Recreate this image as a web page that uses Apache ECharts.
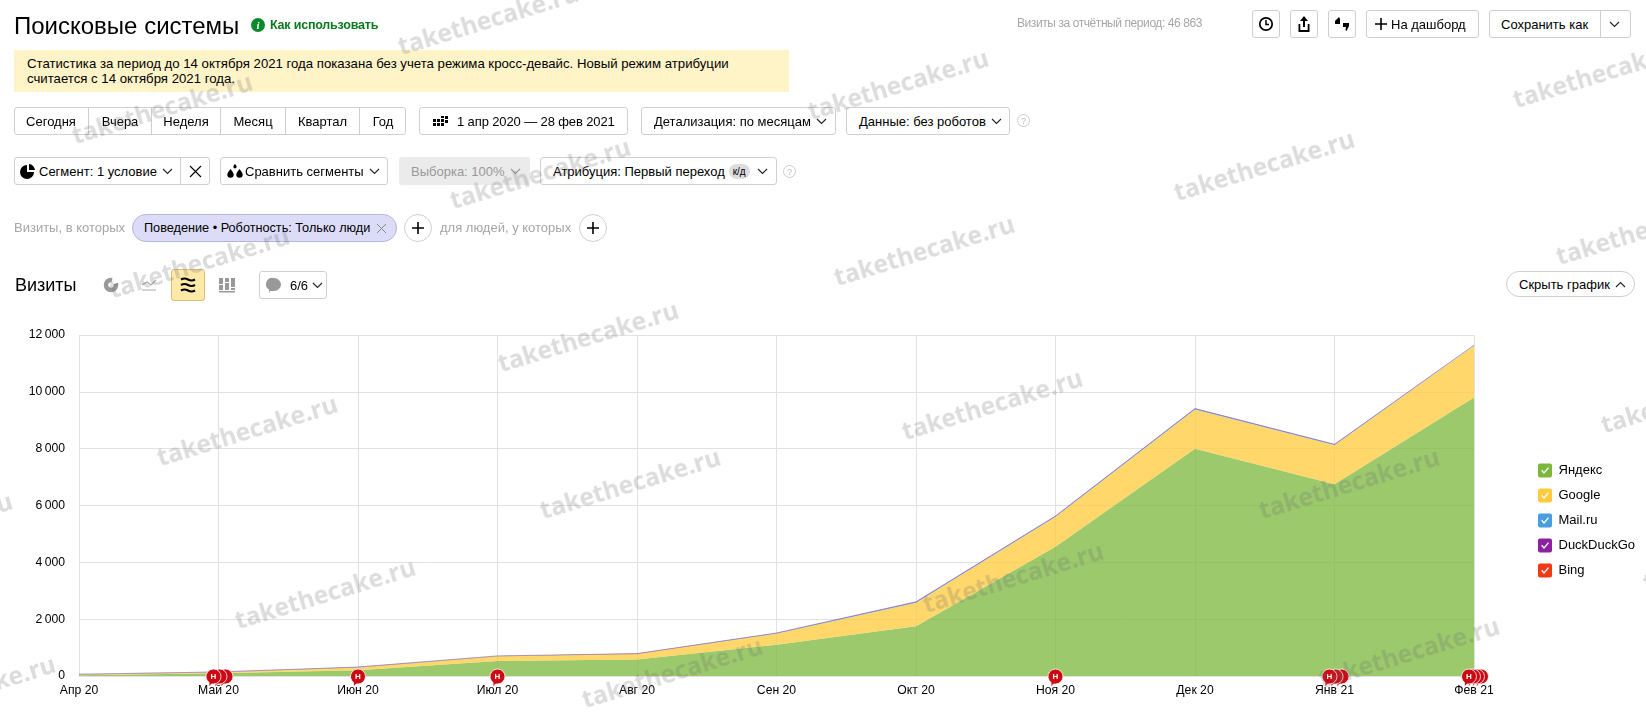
<!DOCTYPE html>
<html>
<head>
<meta charset="utf-8">
<title>Поисковые системы</title>
<script src="https://cdn.jsdelivr.net/npm/echarts@6/dist/echarts.min.js"></script>
<style>
  html, body { margin: 0; padding: 0; background: #fff; overflow: hidden; }
  body { width: 1646px; height: 720px; position: relative; font: 13px "Liberation Sans", Arial, sans-serif; color: #000; }
  #chart { position: absolute; left: 0; top: 0; width: 1646px; height: 720px; }
  .el { position: absolute; box-sizing: border-box; white-space: nowrap; }
  .btn { border: 1px solid #cfcfcf; border-radius: 3px; background: #fff; display: flex; align-items: center; }
  .mark { position: absolute; font: bold 24.5px "Open Sans", sans-serif; color: rgba(110,110,110,.24); transform: translate(-50%,-50%) rotate(-17deg); white-space: nowrap; pointer-events: none; }
  svg { display: block; }
</style>
</head>
<body>
<div id="chart"></div>
<div id="ui"></div>
<script>
// данные графика
var months = ["Апр 20", "Май 20", "Июн 20", "Июл 20", "Авг 20", "Сен 20", "Окт 20", "Ноя 20", "Дек 20", "Янв 21", "Фев 21"];
var yandex = [30, 100, 200, 530, 580, 1100, 1750, 4550, 8000, 6750, 9800];
var google = [30, 40, 110, 170, 200, 400, 830, 1050, 1380, 1380, 1820];
var mailru = [2, 2, 4, 5, 5, 10, 25, 25, 25, 15, 15];
var duckduckgo = [1, 1, 1, 2, 2, 3, 5, 5, 8, 8, 8];
var bing = [1, 1, 1, 1, 1, 2, 2, 3, 3, 3, 3];
var eventCounts = [0, 3, 1, 1, 0, 0, 0, 1, 0, 3, 4];
var yTicks = [0, 2000, 4000, 6000, 8000, 10000, 12000];

var checkIcon = "path://M2 0H12A2 2 0 0 1 14 2V12A2 2 0 0 1 12 14H2A2 2 0 0 1 0 12V2A2 2 0 0 1 2 0ZM3.2 7.2L6 10.6L11 4.6L10 3.7L6 8.4L4.2 6.3Z";
var pinIcon = "path://M7.5 0A7.5 7.5 0 0 1 7.5 15L5.5 15L3 18L3 13.500A7.5 7.5 0 0 1 7.5 0Z";

function areaSeries(name, values, color, lineWidth) {
  return {
    name: name,
    type: "line",
    stack: "total",
    data: values,
    symbol: "none",
    silent: true,
    itemStyle: { color: color },
    lineStyle: { color: color, width: lineWidth, opacity: 0.7 },
    areaStyle: { color: color, opacity: 0.76 }
  };
}

// красные метки "Н" на оси, передняя метка рисуется последней
function eventSeries() {
  var items = [];
  for (var i = 0; i < months.length; i++) {
    var n = eventCounts[i];
    for (var j = n - 1; j >= 0; j--) {
      var shift = n > 1 ? -5 + j * 12 / (n - 1) : 0;
      items.push({
        value: [months[i], 0],
        symbolOffset: [shift, 2],
        label: { show: j === 0 }
      });
    }
  }
  return {
    name: "events",
    type: "scatter",
    data: items,
    clip: false,
    silent: true,
    z: 10,
    symbol: pinIcon,
    symbolSize: [15, 18],
    itemStyle: { color: "#cc0a14", borderColor: "#fff", borderWidth: 0.8, opacity: 1 },
    label: { position: "inside", formatter: "Н", color: "#fff", fontSize: 8, fontWeight: "bold", offset: [0, -1.5] }
  };
}

var chart = echarts.init(document.getElementById("chart"), null, { renderer: "canvas" });
chart.setOption({
  animation: false,
  textStyle: { fontFamily: '"Liberation Sans", Arial, sans-serif' },
  grid: { left: 79, top: 335, width: 1395, height: 341 },
  xAxis: {
    type: "category",
    data: months,
    boundaryGap: false,
    axisTick: { show: false },
    axisLine: { lineStyle: { color: "#e2e2e2" } },
    axisLabel: { color: "#000", fontSize: 12.2, margin: 9, interval: 0 },
    splitLine: { show: true, lineStyle: { color: "#e2e2e2", width: 1 } }
  },
  yAxis: {
    type: "value",
    min: yTicks[0],
    max: yTicks[yTicks.length - 1],
    interval: 2000,
    axisLine: { show: false },
    axisTick: { show: false },
    axisLabel: {
      color: "#000",
      fontSize: 12.2,
      margin: 14,
      formatter: function (v) { return String(v).replace(/\B(?=(\d{3})+$)/g, "\u2009"); }
    },
    splitLine: { lineStyle: { color: "#e2e2e2", width: 1 } }
  },
  legend: {
    data: ["Яндекс", "Google", "Mail.ru", "DuckDuckGo", "Bing"],
    orient: "vertical",
    left: 1533,
    top: 458.5,
    icon: checkIcon,
    itemWidth: 14,
    itemHeight: 14,
    itemGap: 11,
    itemStyle: { borderWidth: 0 },
    selectedMode: false,
    textStyle: { color: "#000", fontSize: 13, padding: [0, 0, 0, 1.5] }
  },
  series: [
    areaSeries("Яндекс", yandex, "#7cb83e", 0),
    areaSeries("Google", google, "#ffcb3d", 0),
    areaSeries("Mail.ru", mailru, "#4a9de0", 0.5),
    areaSeries("DuckDuckGo", duckduckgo, "#8a22a0", 0.5),
    areaSeries("Bing", bing, "#f03a17", 0),
    eventSeries()
  ]
});

// обвязка интерфейса вокруг графика
var ui = document.getElementById("ui");
function el(x, y, w, h, text, css, cls) {
  var d = document.createElement("div");
  d.className = "el " + (cls || "");
  d.style.cssText = "left:" + x + "px;top:" + y + "px;" + (w ? "width:" + w + "px;" : "") + (h ? "height:" + h + "px;" : "") + (css || "");
  d.innerHTML = text || "";
  ui.appendChild(d);
  return d;
}
function btn(x, y, w, h, text, css) {
  return el(x, y, w, h, text, "padding-left:12px;" + (css || ""), "btn");
}
var chev = '<svg width="11" height="7" style="margin-left:5px" viewBox="0 0 11 7"><path d="M1 1l4.5 4.5L10 1" fill="none" stroke="#222" stroke-width="1.1"/></svg>';
var chevGray = chev.replace("#222", "#999");
var chevUp = chev.replace("M1 1l4.5 4.5L10 1", "M1 6l4.5-4.5L10 6");
var plus = '<svg width="14" height="14" viewBox="0 0 14 14"><path d="M7 1v12M1 7h12" stroke="#000" stroke-width="1.6"/></svg>';
var help = "width:13px;height:13px;border:1px solid #ccc;border-radius:50%;color:#bbb;font-size:9px;line-height:13px;text-align:center;";

// шапка
el(14, 11, 0, 0, "Поисковые системы", "font-size:24px;line-height:30px;");
el(251, 18, 14, 14, "i", "border-radius:50%;background:#0a8a2a;color:#fff;font:bold italic 11px/14px 'Liberation Serif',serif;text-align:center;");
el(270, 17, 0, 0, "Как использовать", "color:#0a7a1e;font-size:12.5px;line-height:16px;font-weight:bold;letter-spacing:-.2px;");
el(1017, 15, 0, 0, "Визиты за отчётный период: 46 863", "color:#a6a6a6;font-size:12px;line-height:16px;letter-spacing:-.42px;");
var icoClock = '<svg width="16" height="16" viewBox="0 0 16 16"><circle cx="8" cy="8" r="6.2" fill="none" stroke="#000" stroke-width="1.7"/><path d="M8 4v4.5h3" fill="none" stroke="#000" stroke-width="1.5"/></svg>';
var icoShare = '<svg width="14" height="18" viewBox="0 0 14 18"><path d="M7 1L3 6h3v6h2V6h3zM1.5 9v8h11V9h-1.8v6H3.300V9z" fill="#000"/></svg>';
var icoQuote = '<svg width="16" height="16" viewBox="0 0 16 16"><path d="M5 1L1 5v3h5V3zM9 7h6v3l-2.500 5-1-1 .5-3H9z" fill="#000"/></svg>';
el(1252, 10, 28, 28, icoClock, "justify-content:center;", "btn");
el(1290, 10, 28, 28, icoShare, "justify-content:center;", "btn");
el(1328, 10, 28, 28, icoQuote, "justify-content:center;", "btn");
el(1366, 10, 113, 28, plus + '<span style="margin-left:3px">На дашборд</span>', "padding-left:7px;", "btn");
el(1489, 10, 142, 28, "Сохранить как", "padding-left:11px;", "btn");
el(1600, 10, 1, 28, "", "background:#cfcfcf;");
el(1609, 21, 0, 0, chev.replace("margin-left:5px", ""));

// плашка
el(14, 50, 775, 42, "Статистика за период до 14 октября 2021 года показана без учета режима кросс-девайс. Новый режим атрибуции<br>считается с 14 октября 2021 года.", "background:#fff4c8;padding:6px 13px;font-size:13.2px;line-height:15px;");

// ряд периодов
el(14, 107, 392, 28, "", "", "btn");
var periods = [["Сегодня", 14, 75], ["Вчера", 89, 63], ["Неделя", 152, 69], ["Месяц", 221, 65], ["Квартал", 286, 74], ["Год", 360, 46]];
for (var p = 0; p < periods.length; p++) {
  el(periods[p][1], 107, periods[p][2], 28, periods[p][0], "display:flex;align-items:center;justify-content:center;" + (p < 5 ? "border-right:1px solid #cfcfcf;" : ""));
}
var icoGrid = '<svg width="15" height="11" viewBox="0 0 15 11" style="margin-right:9px"><path d="M0 3h3v3H0zM4 3h3v3H4zM8 3h3v3H8zM12 0h3v3h-3zM8 0h3v2H8zM12 4h3v3h-3zM0 7h3v3H0zM4 7h3v3H4zM8 7h3v3H8z" fill="#000"/></svg>';
el(419, 107, 209, 28, icoGrid + "1 апр 2020 — 28 фев 2021", "padding-left:13px;letter-spacing:-.12px;", "btn");
btn(641, 107, 195, 28, "Детализация: по месяцам" + chev);
btn(846, 107, 164, 28, "Данные: без роботов" + chev);
el(1017, 114, 13, 13, "?", help);

// ряд сегментов
var icoPie = '<svg width="16" height="16" viewBox="0 0 16 16" style="margin-right:3px"><path d="M7 2v7h7a7 7 0 1 1-7-7zM9 1a6.500 6.500 0 0 1 6 6H9z" fill="#000"/></svg>';
var icoDrops = '<svg width="18" height="16" viewBox="0 0 18 16" style="margin-right:1px"><path d="M4.500 6c2 2.500 3.200 4 3.200 5.600a3.200 3.200 0 0 1-6.400 0C1.300 10 2.500 8.500 4.500 6zM13.500 6c2 2.500 3.200 4 3.200 5.600a3.200 3.200 0 0 1-6.400 0c0-1.600 1.200-3.100 3.200-5.600zM9 1c1 1.200 1.600 2 1.600 2.800a1.600 1.600 0 0 1-3.200 0C7.400 3 8 2.200 9 1z" fill="#000"/></svg>';
el(14, 157, 196, 28, "", "", "btn");
el(14, 157, 167, 28, icoPie + "Сегмент: 1 условие" + chev, "display:flex;align-items:center;padding-left:6px;border-right:1px solid #cfcfcf;");
el(181, 157, 29, 28, '<svg width="13" height="13" viewBox="0 0 13 13"><path d="M1 1l11 11M12 1L1 12" stroke="#000" stroke-width="1.1"/></svg>', "display:flex;align-items:center;justify-content:center;");
el(220, 157, 168, 28, icoDrops + "Сравнить сегменты" + chev, "padding-left:5px;", "btn");
el(399, 157, 131, 28, "Выборка: 100%" + chevGray, "display:flex;align-items:center;padding-left:12px;background:#ebebeb;border-radius:3px;color:#999;");
el(540, 157, 237, 28, 'Атрибуция: Первый переход<span style="background:#ddd;border-radius:8px;font-size:10px;padding:2px 4px;margin:0 5px 0 4px">к/д</span>' + chev.replace("margin-left:5px", "margin-left:2px"), "padding-left:12px;", "btn");
el(783, 165, 13, 13, "?", help);

// условия сегмента
el(14, 220, 0, 0, "Визиты, в которых", "color:#a6a6a6;font-size:13px;line-height:16px;");
el(132, 214, 265, 28, 'Поведение • Роботность: Только люди<svg width="11" height="11" viewBox="0 0 11 11" style="margin-left:6px"><path d="M1 1l9 9M10 1l-9 9" stroke="#888" stroke-width="1"/></svg>', "background:#dcdcf8;border:1px solid #b4b4dc;border-radius:14px;display:flex;align-items:center;padding-left:11px;font-size:12.7px;");
el(404, 214, 28, 28, plus, "border:1px solid #cfcfcf;border-radius:50%;display:flex;align-items:center;justify-content:center;");
el(440, 220, 0, 0, "для людей, у которых", "color:#a6a6a6;font-size:13px;line-height:16px;");
el(579, 214, 28, 28, plus, "border:1px solid #cfcfcf;border-radius:50%;display:flex;align-items:center;justify-content:center;");

// заголовок блока графика
el(15, 273, 0, 0, "Визиты", "font-size:18px;line-height:24px;");
el(103, 277, 16, 16, '<svg width="16" height="16" viewBox="0 0 16 16"><circle cx="8" cy="8" r="5" fill="none" stroke="#999" stroke-width="4.5" stroke-dasharray="24 5"/></svg>');
el(141, 279, 16, 12, '<svg width="16" height="12" viewBox="0 0 16 12"><path d="M1 6l5-3 4 3 5-5M1 11h14" fill="none" stroke="#aaa" stroke-width="1.2"/></svg>');
el(171, 269, 34, 32, '<svg width="16" height="16" viewBox="0 0 16 16"><path d="M1 2.500q3.500-2 7 0t7 0M1 8q3.500-2 7 0t7 0M1 13.500q3.500-2 7 0t7 0" fill="none" stroke="#000" stroke-width="2.2"/></svg>', "background:#ffe9a6;border:1px solid #d8c27a;border-radius:3px;display:flex;align-items:center;justify-content:center;");
el(219, 277, 16, 16, '<svg width="16" height="16" viewBox="0 0 16 16"><path d="M0 1h4v6H0zM6 1h4v4H6zM12 1h4v9h-4zM0 8h4v5H0zM6 6h4v7H6zM12 11h4v2h-4zM0 14h16v1.500H0z" fill="#999"/></svg>');
el(259, 271, 68, 28, '<svg width="16" height="16" viewBox="0 0 16 16" style="margin-right:8px"><path d="M8 1a7 6.500 0 0 1 0 13H4l-1 2v-3.200A6.500 6.500 0 0 1 8 1z" fill="#999"/></svg>6/6' + chev.replace("margin-left:5px", "margin-left:4px"), "padding-left:3px;justify-content:center;", "btn");
el(1506, 271, 129, 26, "Скрыть график" + chevUp, "border-radius:13px;padding-left:12px;", "btn");

// водяные знаки
var marks = [[488, 19], [898, 84], [1603, 72], [162, 108], [540, 173], [1264, 165], [199, 262], [924, 250], [1646, 229], [588, 336], [1691, 397], [247, 430], [992, 404], [630, 483], [1349, 483], [-78, 527], [1013, 577], [325, 593], [1733, 555], [-35, 690], [672, 672], [1409, 652]];
for (var m = 0; m < marks.length; m++) {
  var w = document.createElement("div");
  w.className = "mark";
  w.style.left = marks[m][0] + "px";
  w.style.top = marks[m][1] + "px";
  w.textContent = "takethecake.ru";
  ui.appendChild(w);
}
</script>
</body>
</html>
